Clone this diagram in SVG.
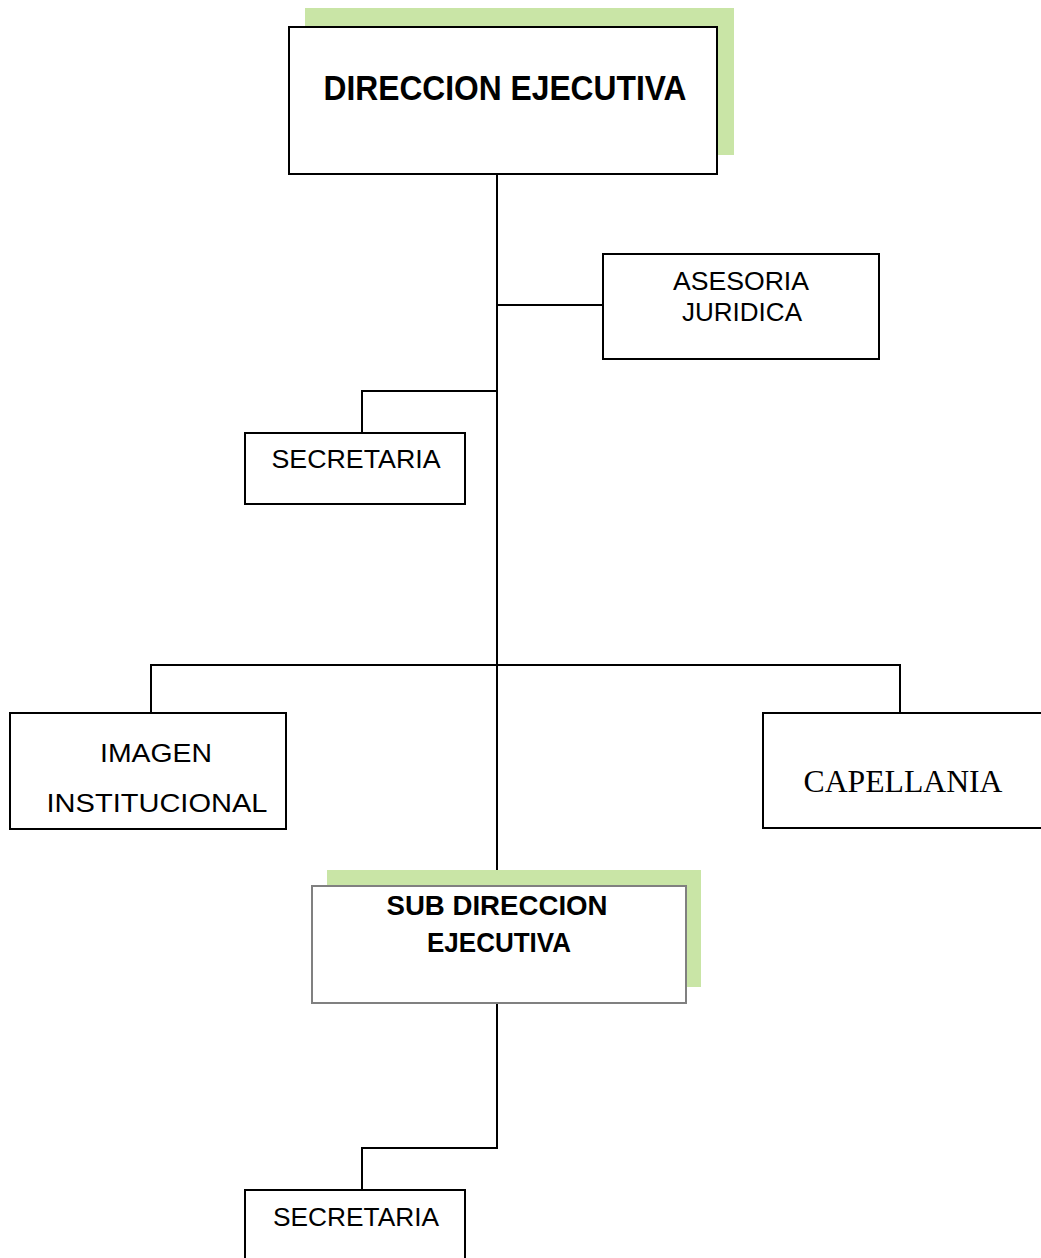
<svg xmlns="http://www.w3.org/2000/svg" width="1041" height="1258" viewBox="0 0 1041 1258">
<style>
.box{fill:#ffffff;stroke:#000000;stroke-width:2}
.sub{fill:#ffffff;stroke:#808080;stroke-width:2}
.shadow{fill:#c9e5a6;stroke:none}
.conn{fill:none;stroke:#000000;stroke-width:2}
.t{font-family:"Liberation Sans",Arial,sans-serif;font-size:26px;fill:#000000;text-anchor:middle}
.tb{font-family:"Liberation Sans",Arial,sans-serif;font-weight:bold;fill:#000000;text-anchor:middle}
.ts{font-family:"Liberation Serif","Times New Roman",serif;font-size:31px;fill:#000000;text-anchor:middle}
</style>
<rect width="1041" height="1258" fill="#ffffff"/>
<g id="connectors">
<path class="conn" d="M497,174 V886"/>
<path class="conn" d="M497,305 H603"/>
<path class="conn" d="M497,391 H362 V433"/>
<path class="conn" d="M151,713 V665 H900 V713"/>
<path class="conn" d="M497,1003 V1148 H362 V1190"/>
</g>
<g id="direccion-ejecutiva">
<rect class="shadow" x="305" y="8" width="429" height="147"/>
<rect class="box" x="289" y="27" width="428" height="147"/>
<text class="tb" x="505" y="100" font-size="35" textLength="363" lengthAdjust="spacingAndGlyphs">DIRECCION EJECUTIVA</text>
</g>
<g id="asesoria-juridica">
<rect class="box" x="603" y="254" width="276" height="105"/>
<text class="t" x="741" y="290" textLength="136" lengthAdjust="spacingAndGlyphs">ASESORIA</text>
<text class="t" x="742" y="321" textLength="120" lengthAdjust="spacingAndGlyphs">JURIDICA</text>
</g>
<g id="secretaria-1">
<rect class="box" x="245" y="433" width="220" height="71"/>
<text class="t" x="356" y="468" textLength="169" lengthAdjust="spacingAndGlyphs">SECRETARIA</text>
</g>
<g id="imagen-institucional">
<rect class="box" x="10" y="713" width="276" height="116"/>
<text class="t" x="156" y="762" font-size="28.5px" textLength="112" lengthAdjust="spacingAndGlyphs">IMAGEN</text>
<text class="t" x="157" y="812" font-size="28.5px" textLength="221" lengthAdjust="spacingAndGlyphs">INSTITUCIONAL</text>
</g>
<g id="capellania">
<rect class="box" x="763" y="713" width="290" height="115"/>
<text class="ts" x="903" y="792" textLength="199" lengthAdjust="spacingAndGlyphs">CAPELLANIA</text>
</g>
<g id="sub-direccion-ejecutiva">
<rect class="shadow" x="327" y="870" width="374" height="117"/>
<rect class="sub" x="312" y="886" width="374" height="117"/>
<text class="tb" x="497" y="915" font-size="28" textLength="221" lengthAdjust="spacingAndGlyphs">SUB DIRECCION</text>
<text class="tb" x="499" y="952" font-size="28" textLength="144" lengthAdjust="spacingAndGlyphs">EJECUTIVA</text>
</g>
<g id="secretaria-2">
<rect class="box" x="245" y="1190" width="220" height="80"/>
<text class="t" x="356" y="1226" textLength="166" lengthAdjust="spacingAndGlyphs">SECRETARIA</text>
</g>
</svg>
